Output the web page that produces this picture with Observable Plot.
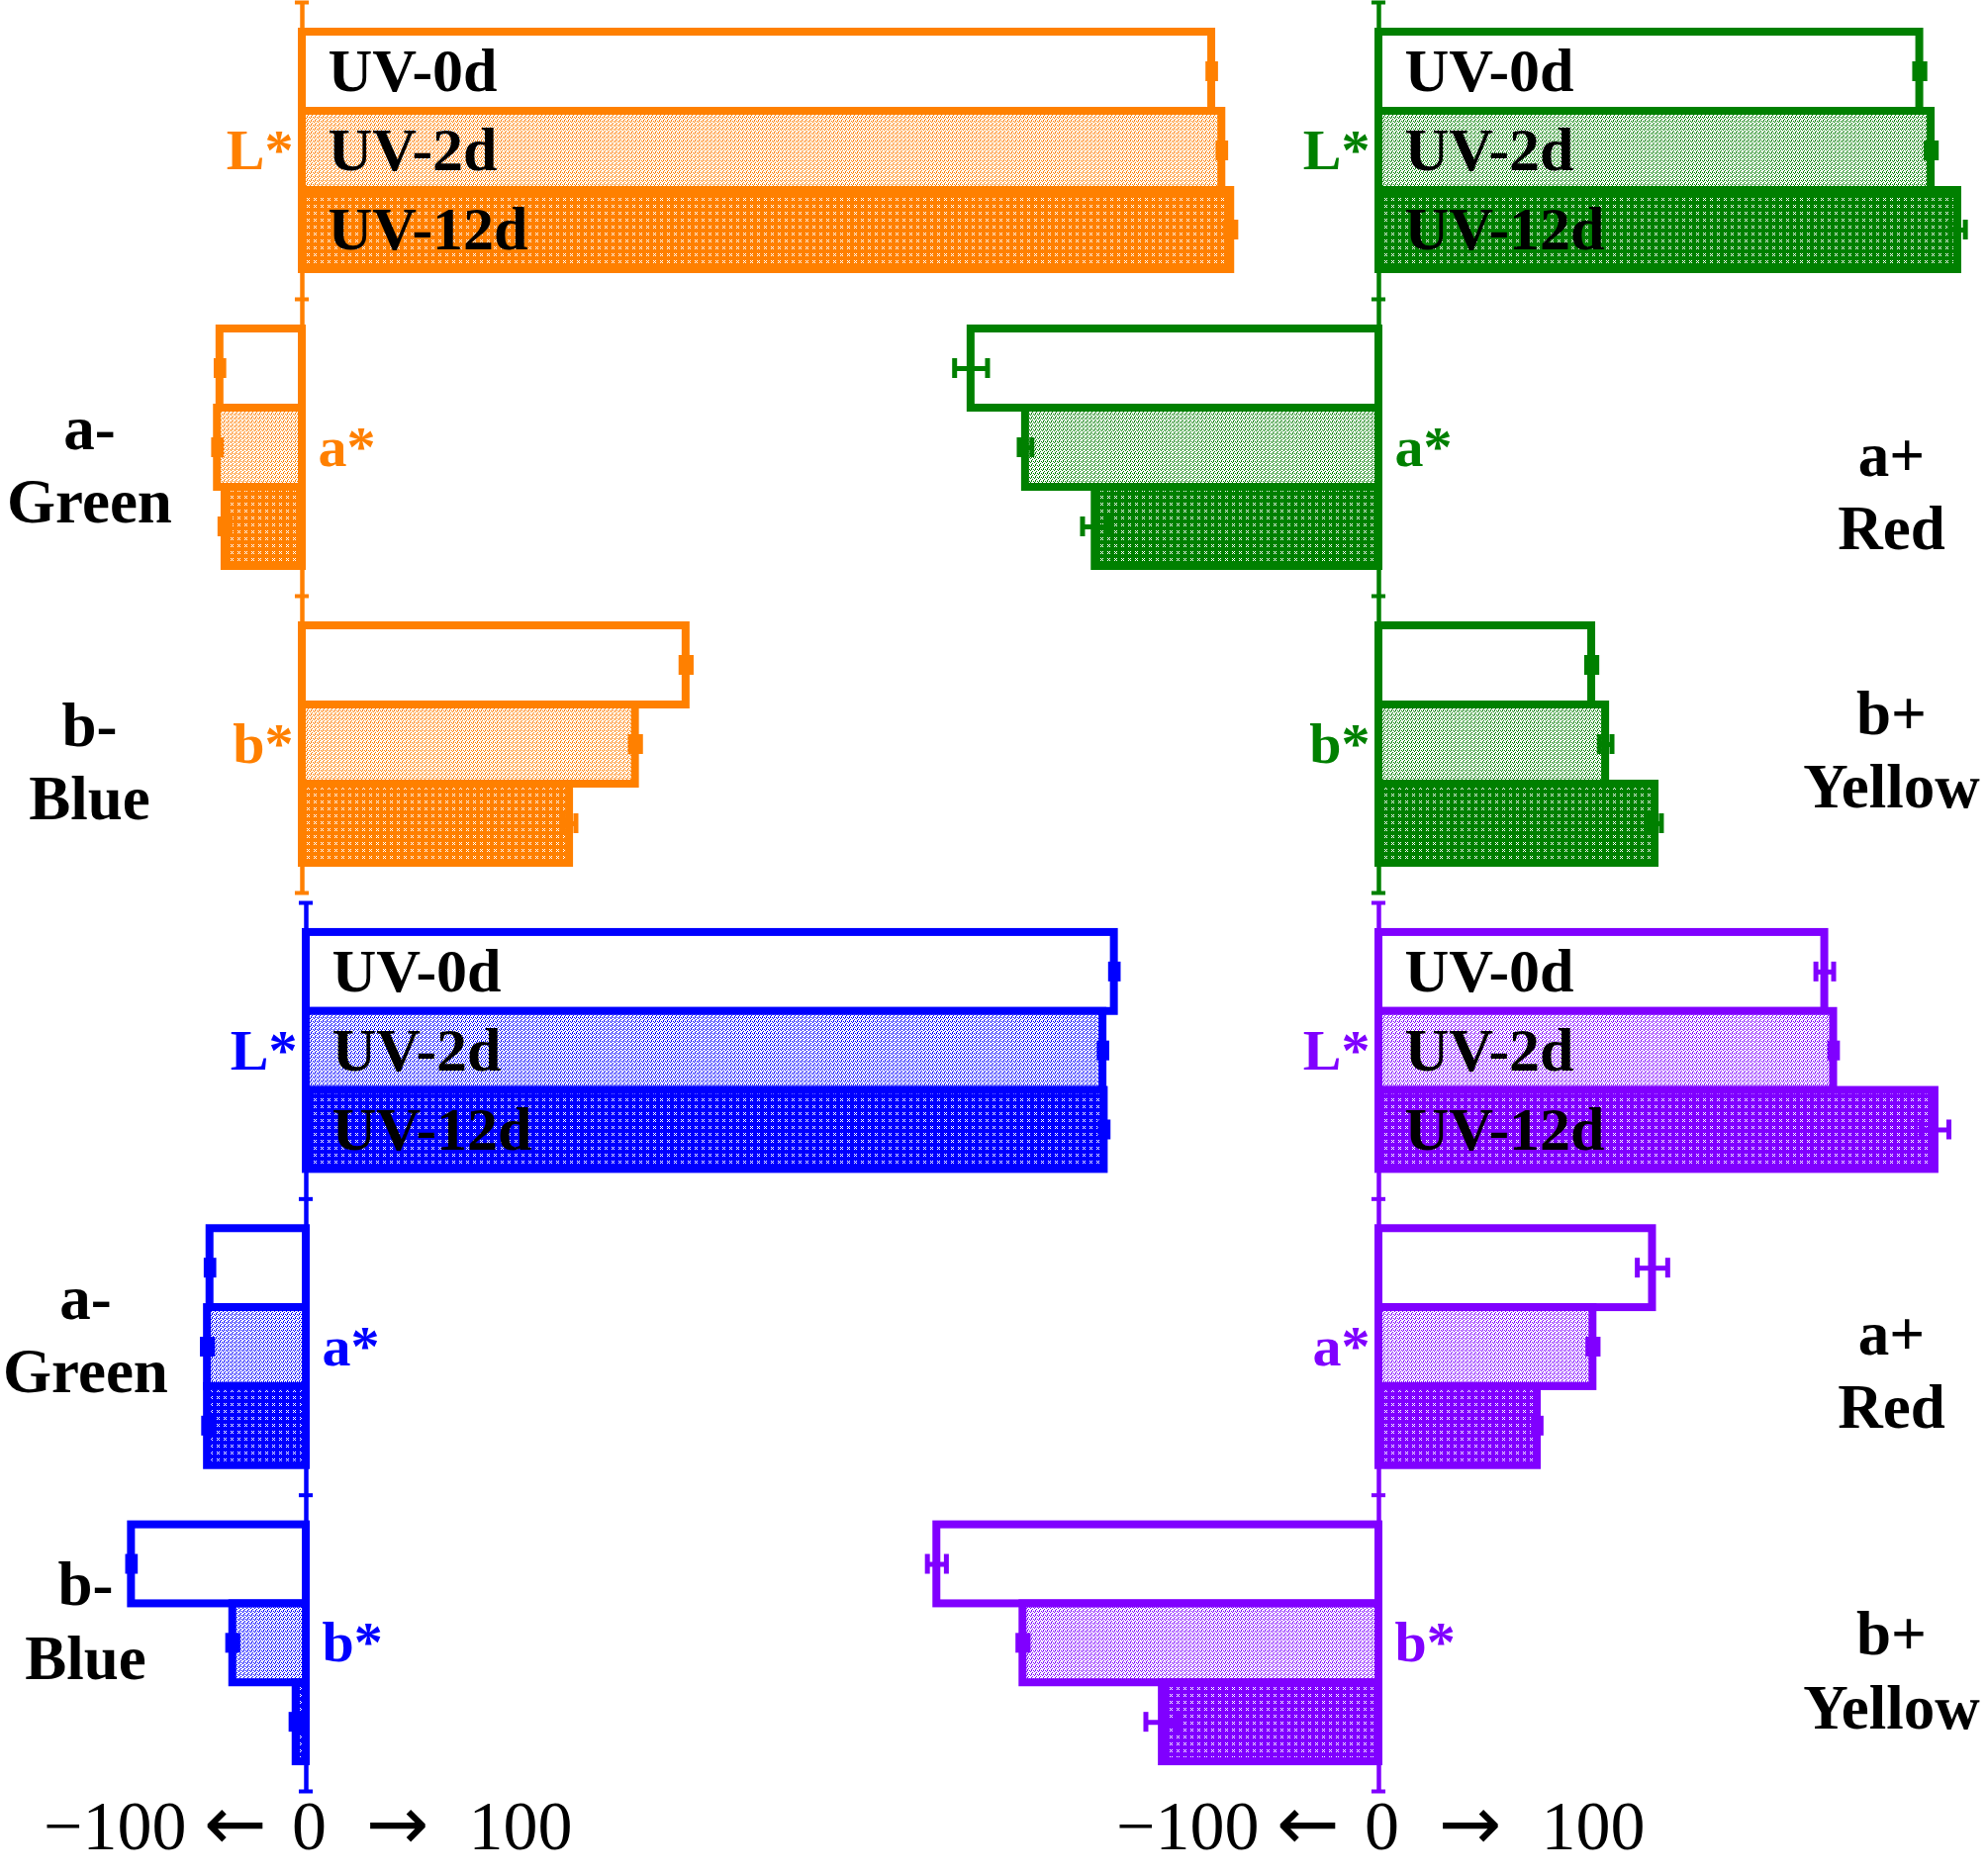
<!DOCTYPE html>
<html><head><meta charset="utf-8">
<script src="https://cdn.jsdelivr.net/npm/d3@7"></script>
<script src="https://cdn.jsdelivr.net/npm/@observablehq/plot@0.6"></script>
<style>
html,body{margin:0;padding:0;background:#fff;}
#chart{position:relative;width:2008px;height:1896px;overflow:hidden;background:#fff;}
</style></head><body><div id="chart"></div>
<script>
// ---------- data ----------
const groups = ["L*", "a*", "b*"];
const treatments = ["UV-0d", "UV-2d", "UV-12d"];
const sideGroups = ["a*", "b*"];
const leftSideLabels = ["a-\nGreen", "b-\nBlue"];
const rightSideLabels = ["a+\nRed", "b+\nYellow"];
const tickLabels = ["\u2212100", "0", "100"];
const arrowLabels = ["\u2190", "\u2192"];

// rows: L*, a*, b* ; columns: UV-0d, UV-2d, UV-12d
const orangeMeans  = [[71.8, 72.6, 73.3], [-6.5, -6.7, -6.1], [30.3, 26.3, 21.1]];
const orangeErrors = [[0.3, 0.3, 0.4], [0.3, 0.3, 0.4], [0.4, 0.4, 0.5]];
const greenMeans   = [[42.7, 43.6, 45.7], [-32.2, -27.9, -22.4], [16.8, 17.9, 21.8]];
const greenErrors  = [[0.4, 0.4, 0.6], [1.3, 0.5, 1.0], [0.4, 0.5, 0.5]];
const blueMeans    = [[63.8, 62.9, 63.0], [-7.6, -7.8, -7.8], [-13.8, -5.8, -0.8]];
const blueErrors   = [[0.3, 0.3, 0.3], [0.3, 0.4, 0.3], [0.3, 0.4, 0.4]];
const purpleMeans  = [[35.2, 35.9, 43.9], [21.6, 16.9, 12.5], [-34.9, -28.1, -17.1]];
const purpleErrors = [[0.7, 0.3, 1.1], [1.2, 0.4, 0.3], [0.75, 0.4, 1.3]];

// ---------- layout / style ----------
const PX = 12.8; // pixels per unit
const panels = [
  {id: "orange", color: "#ff8000", means: orangeMeans, errs: orangeErrors, side: "left",
   left: 0, top: 2, width: 1300, height: 900, zero: 305, axisText: false, sideDy: [15, 15], sideDx: 90},
  {id: "green", color: "#008000", means: greenMeans, errs: greenErrors, side: "right",
   left: 900, top: 2, width: 1108, height: 900, zero: 1393, axisText: false, sideDy: [42, 3], sideDx: -97},
  {id: "blue", color: "#0000ff", means: blueMeans, errs: blueErrors, side: "left",
   left: 0, top: 912, width: 1150, height: 898, zero: 309, axisText: true, sideDy: [-15, -25], sideDx: 86},
  {id: "purple", color: "#8000ff", means: purpleMeans, errs: purpleErrors, side: "right",
   left: 900, top: 912, width: 1108, height: 898, zero: 1393, axisText: true, sideDy: [21, 25], sideDx: -97}
];
const FONT = "'Liberation Serif', 'Times New Roman', serif";

function patternDefs(id, c) {
  return `
  <pattern id="pat-${id}-1" width="4" height="4" patternUnits="userSpaceOnUse">
    <rect width="4" height="4" fill="white"/>
    <rect x="0" y="0" width="1" height="1" fill="${c}"/>
    <rect x="2" y="0" width="1" height="1" fill="${c}"/>
    <rect x="1" y="1" width="1" height="1" fill="${c}"/>
    <rect x="3" y="2" width="1" height="1" fill="${c}"/>
    <rect x="2" y="3" width="1" height="1" fill="${c}"/>
  </pattern>
  <pattern id="pat-${id}-2" width="7" height="7" patternUnits="userSpaceOnUse">
    <rect width="7" height="7" fill="${c}"/>
    <rect x="2" y="2" width="1" height="1" fill="white"/>
    <rect x="4" y="2" width="1" height="1" fill="white"/>
    <rect x="3" y="3" width="1" height="1" fill="white"/>
    <rect x="2" y="4" width="1" height="1" fill="white"/>
    <rect x="4" y="4" width="1" height="1" fill="white"/>
  </pattern>`;
}

function makePanel(p) {
  const mb = p.axisText ? 90 : 0;
  const H = p.height + mb;
  const zeroX = p.zero - p.left;
  const step = p.height / 3, bw = step * 0.8, bh = bw / 3, capH = 20;
  const rows = [];
  groups.forEach((g, gi) => treatments.forEach((t, ti) =>
    rows.push({group: g, treatment: t, ti, value: p.means[gi][ti], err: p.errs[gi][ti]})));
  const fills = ["white", `url(#pat-${p.id}-1)`, `url(#pat-${p.id}-2)`];
  const c = p.color;
  const marks = [];
  treatments.forEach((t, ti) => {
    const d = rows.filter(r => r.ti === ti);
    marks.push(Plot.barX(d, {x1: 0, x2: "value", y: "group", fill: fills[ti], stroke: c, strokeWidth: 8,
      insetTop: bh * ti, insetBottom: bh * (2 - ti)}));
  });
  marks.push(Plot.ruleX([0], {stroke: c, strokeWidth: 4.5}));
  marks.push(Plot.ruleY(groups, {y: d => d, x1: -0.55, x2: 0.55, dy: -step / 2, stroke: c, strokeWidth: 4}));
  marks.push(Plot.ruleY(groups.slice(-1), {y: d => d, x1: -0.55, x2: 0.55, dy: step / 2, stroke: c, strokeWidth: 4}));
  treatments.forEach((t, ti) => {
    const d = rows.filter(r => r.ti === ti);
    marks.push(Plot.ruleY(d, {y: "group", x1: r => r.value - r.err, x2: r => r.value + r.err, dy: (ti - 1) * bh, stroke: c, strokeWidth: 5}));
    for (const s of [-1, 1]) {
      marks.push(Plot.tickX(d, {x: r => r.value + s * r.err, y: "group", stroke: c, strokeWidth: 5,
        insetTop: bh * ti + (bh - capH) / 2, insetBottom: bh * (2 - ti) + (bh - capH) / 2}));
    }
  });
  // treatment labels on L* bars
  treatments.forEach((t, ti) => {
    marks.push(Plot.text(rows.filter(r => r.group === "L*" && r.ti === ti), {x: 0, y: "group", text: "treatment",
      dx: 26, dy: (ti - 1) * bh, textAnchor: "start", fill: "black", fontWeight: "bold", fontSize: 62}));
  });
  // group labels on the side opposite the bars
  const pos = groups.filter((g, gi) => d3.sum(p.means[gi]) >= 0);
  const neg = groups.filter((g, gi) => d3.sum(p.means[gi]) < 0);
  marks.push(Plot.text(pos, {x: 0, y: d => d, text: d => d, textAnchor: "end", dx: -9, fill: c, fontWeight: "bold", fontSize: 58}));
  marks.push(Plot.text(neg, {x: 0, y: d => d, text: d => d, textAnchor: "start", dx: 16, fill: c, fontWeight: "bold", fontSize: 58}));
  // side colour-direction labels
  const sideLabels = p.side === "left" ? leftSideLabels : rightSideLabels;
  sideGroups.forEach((g, i) => {
    marks.push(Plot.text([g], {y: d => d, text: () => sideLabels[i], frameAnchor: p.side, dx: p.sideDx, dy: p.sideDy[i],
      textAnchor: "middle", lineHeight: 1.18, fill: "black", fontWeight: "bold", fontSize: 63}));
  });
  // bottom direction labels
  if (p.axisText) {
    const ty = 58;
    const common = {x: 0, text: d => d, frameAnchor: "bottom", dy: ty, fill: "black"};
    marks.push(Plot.text([tickLabels[0]], {...common, dx: -121, textAnchor: "end", fontSize: 70}));
    marks.push(Plot.text([arrowLabels[0]], {...common, dx: -72, textAnchor: "middle", fontSize: 76, fontFamily: "'DejaVu Sans'"}));
    marks.push(Plot.text([tickLabels[1]], {...common, dx: 3, textAnchor: "middle", fontSize: 70}));
    marks.push(Plot.text([arrowLabels[1]], {...common, dx: 92, textAnchor: "middle", fontSize: 76, fontFamily: "'DejaVu Sans'"}));
    marks.push(Plot.text([tickLabels[2]], {...common, dx: 164, textAnchor: "start", fontSize: 70}));
  }
  const svg = Plot.plot({
    width: p.width, height: H,
    marginLeft: 0, marginRight: 0, marginTop: 0, marginBottom: mb,
    x: {domain: [-zeroX / PX, (p.width - zeroX) / PX], axis: null},
    y: {domain: groups, axis: null, paddingInner: 0.2, paddingOuter: 0.1, round: false},
    style: {background: "transparent", overflow: "visible", fontFamily: FONT},
    marks
  });
  const ns = "http://www.w3.org/2000/svg";
  const defs = document.createElementNS(ns, "defs");
  defs.innerHTML = patternDefs(p.id, c);
  svg.insertBefore(defs, svg.firstChild);
  svg.style.position = "absolute";
  svg.style.left = p.left + "px";
  svg.style.top = p.top + "px";
  svg.style.maxWidth = "none";
  return svg;
}

const chart = document.getElementById("chart");
for (const p of panels) chart.appendChild(makePanel(p));
</script></body></html>
